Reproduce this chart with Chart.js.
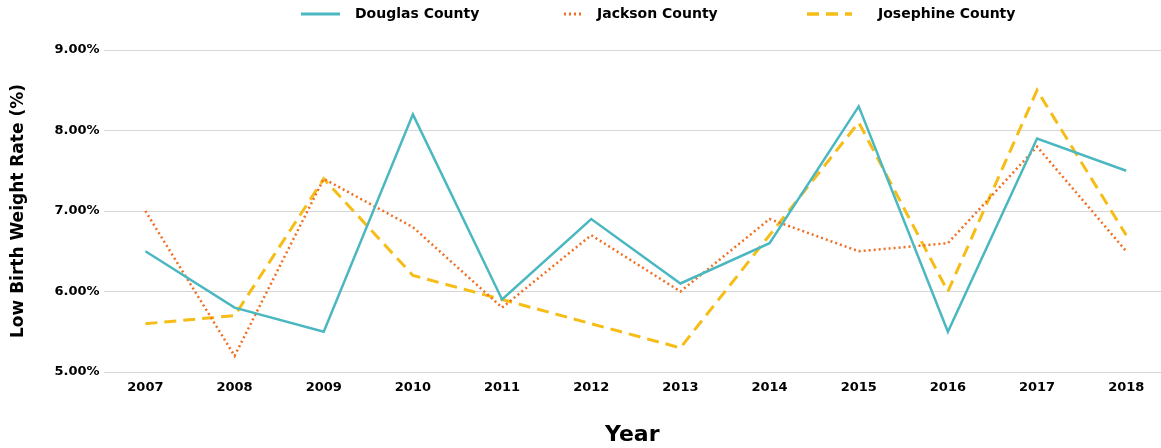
<!DOCTYPE html>
<html>
<head>
<meta charset="utf-8">
<script src="https://cdn.jsdelivr.net/npm/chart.js@4/dist/chart.umd.min.js"></script>
<style>
  html, body { margin: 0; padding: 0; background: #fff; }
  #wrap { width: 1161px; height: 448px; position: relative; }
</style>
</head>
<body>
<div id="wrap"><canvas id="chart"></canvas></div>
<script>
// values (percent)
const years = [2007, 2008, 2009, 2010, 2011, 2012, 2013, 2014, 2015, 2016, 2017, 2018];
const douglas = [6.5, 5.8, 5.5, 8.2, 5.9, 6.9, 6.1, 6.6, 8.3, 5.5, 7.9, 7.5];
const jackson = [7.0, 5.2, 7.4, 6.8, 5.8, 6.7, 6.0, 6.9, 6.5, 6.6, 7.8, 6.5];
const josephine = [5.6, 5.7, 7.4, 6.2, 5.9, 5.6, 5.3, 6.7, 8.1, 6.0, 8.5, 6.7];
const seriesNames = ['Douglas County', 'Jackson County', 'Josephine County'];

const FONT = "'DejaVu Sans', sans-serif";

const toPoints = vals => vals.map((v, i) => ({ x: years[i], y: v }));

// legend drawn by hand so it can sit where the reference has it
const topLegend = {
  id: 'topLegend',
  afterDraw(chart, args, opts) {
    const ctx = chart.ctx;
    ctx.save();
    chart.data.datasets.forEach((ds, i) => {
      const [x0, x1] = opts.swatch[i];
      ctx.strokeStyle = ds.borderColor;
      ctx.lineWidth = ds.borderWidth + 0.5;
      ctx.setLineDash(ds.borderDash || []);
      ctx.beginPath();
      ctx.moveTo(x0, opts.y);
      ctx.lineTo(x1, opts.y);
      ctx.stroke();
      ctx.setLineDash([]);
      ctx.fillStyle = '#000';
      ctx.font = 'bold 14px ' + FONT;
      ctx.textBaseline = 'middle';
      ctx.textAlign = 'left';
      ctx.fillText(ds.label, opts.textX[i], opts.y);
    });
    ctx.restore();
  }
};

new Chart(document.getElementById('chart'), {
  type: 'line',
  data: {
    datasets: [
      {
        label: seriesNames[0],
        data: toPoints(douglas),
        borderColor: '#4bb8c1',
        borderWidth: 2.5,
        pointRadius: 0,
        tension: 0
      },
      {
        label: seriesNames[1],
        data: toPoints(jackson),
        borderColor: '#ef6f24',
        borderWidth: 2.5,
        borderDash: [2, 3],
        pointRadius: 0,
        tension: 0
      },
      {
        label: seriesNames[2],
        data: toPoints(josephine),
        borderColor: '#f6bd16',
        borderWidth: 3,
        borderDash: [12, 7],
        pointRadius: 0,
        tension: 0
      }
    ]
  },
  options: {
    responsive: true,
    maintainAspectRatio: false,
    animation: false,
    layout: { padding: { top: 50, right: 0, bottom: 0, left: 0 } },
    plugins: {
      legend: { display: false },
      tooltip: { enabled: false },
      topLegend: {
        y: 14,
        swatch: [[301, 340], [564, 582], [807, 852]],
        textX: [355, 597, 878]
      }
    },
    scales: {
      x: {
        type: 'linear',
        min: 2006.53,
        max: 2018.39,
        border: { display: false },
        grid: { display: false, drawTicks: false },
        ticks: {
          stepSize: 1,
          includeBounds: false,
          autoSkip: false,
          maxRotation: 0,
          padding: 8,
          color: '#000',
          font: { family: FONT, size: 13, weight: 'bold' },
          callback: v => String(v)
        },
        title: {
          display: true,
          text: 'Year',
          color: '#000',
          font: { family: FONT, size: 22, weight: 'bold' },
          padding: { top: 18, bottom: 0 }
        }
      },
      y: {
        min: 5,
        max: 9,
        border: { display: false },
        grid: { color: '#d6d6d6', lineWidth: 1, drawTicks: false },
        ticks: {
          stepSize: 1,
          padding: 4,
          color: '#000',
          font: { family: FONT, size: 13, weight: 'bold' },
          callback: v => v.toFixed(2) + '%'
        },
        title: {
          display: true,
          text: 'Low Birth Weight Rate (%)',
          color: '#000',
          font: { family: FONT, size: 17, weight: 'bold' },
          padding: { top: 8, bottom: 22 }
        }
      }
    }
  },
  plugins: [topLegend]
});
</script>
</body>
</html>
